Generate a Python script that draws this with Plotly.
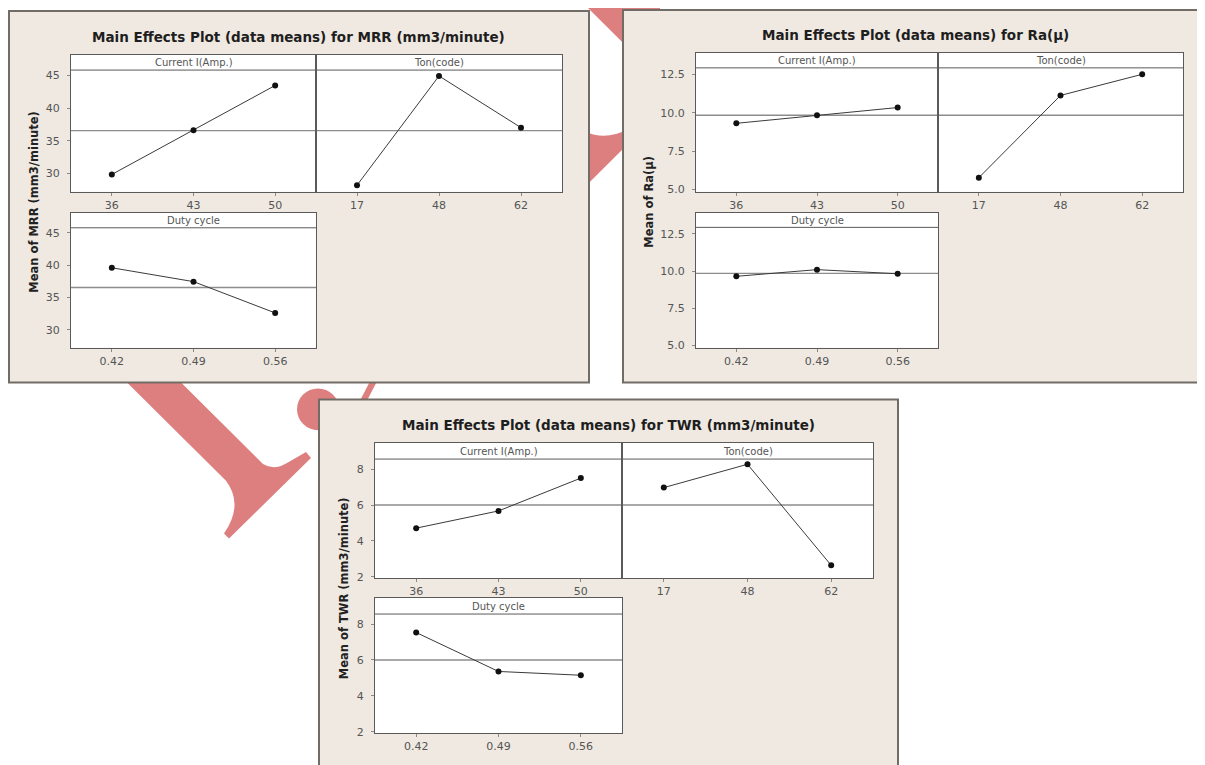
import plotly.graph_objects as go

# ---------------- data ----------------
current_levels = ["36", "43", "50"]
ton_levels = ["17", "48", "62"]
duty_levels = ["0.42", "0.49", "0.56"]

mrr_current = [29.85, 36.6, 43.45]
mrr_ton = [28.2, 44.9, 37.0]
mrr_duty = [39.6, 37.45, 32.6]
mrr_mean = 36.55

ra_current = [9.32, 9.85, 10.35]
ra_ton = [5.77, 11.14, 12.52]
ra_duty = [9.65, 10.1, 9.82]
ra_mean = 9.85

twr_current = [4.71, 5.67, 7.5]
twr_ton = [6.97, 8.27, 2.64]
twr_duty = [7.53, 5.36, 5.15]
twr_mean = 6.0

factor_names = ["Current I(Amp.)", "Ton(code)", "Duty cycle"]

mrr_ticks = [30, 35, 40, 45]
mrr_ticktext = ["30", "35", "40", "45"]
ra_ticks = [5.0, 7.5, 10.0, 12.5]
ra_ticktext = ["5.0", "7.5", "10.0", "12.5"]
twr_ticks = [2, 4, 6, 8]
twr_ticktext = ["2", "4", "6", "8"]

# ---------------- layout helpers ----------------
OFF = 8                      # page body margin
W, H = 1205 - OFF, 765 - OFF
BEIGE = "#EFE9E1"
RED = "rgb(222,127,127)"


def px(x):
    return (x - OFF) / W


def py(y):
    return 1 - (y - OFF) / H


def path(pts_cmds):
    out = []
    for c in pts_cmds:
        if c[0] in ("M", "L"):
            out.append(f"{c[0]} {px(c[1]):.5f},{py(c[2]):.5f}")
        elif c[0] == "Q":
            out.append(f"Q {px(c[1]):.5f},{py(c[2]):.5f} {px(c[3]):.5f},{py(c[4]):.5f}")
        elif c[0] == "Z":
            out.append("Z")
    return " ".join(out)


panels = [
    dict(title="Main Effects Plot (data means) for MRR (mm3/minute)",
         ytitle="Mean of MRR (mm3/minute)",
         frame=(9, 11, 589, 385), title_pos=(298, 37), ytitle_pos=(34, 203),
         rects=[(71, 55, 316, 193), (316, 55, 562, 193), (71, 214, 316, 350)],
         yrange=[27.2, 48.15], header=45.8, mean=mrr_mean,
         ticks=mrr_ticks, ticktext=mrr_ticktext,
         series=[mrr_current, mrr_ton, mrr_duty]),
    dict(title="Main Effects Plot (data means) for Ra(\u03bc)",
         ytitle="Mean of Ra(\u03bc)",
         frame=(623, 10, 1202, 385), title_pos=(915, 35), ytitle_pos=(649, 203),
         rects=[(696, 53, 938, 193), (938, 53, 1183, 193), (696, 214, 938, 350)],
         yrange=[4.85, 13.93], header=12.94, mean=ra_mean,
         ticks=ra_ticks, ticktext=ra_ticktext,
         series=[ra_current, ra_ton, ra_duty]),
    dict(title="Main Effects Plot (data means) for TWR (mm3/minute)",
         ytitle="Mean of TWR (mm3/minute)",
         frame=(319, 402, 898, 790), title_pos=(608, 428), ytitle_pos=(344, 592),
         rects=[(375, 446, 622, 582), (622, 446, 873, 582), (375, 602, 622, 738)],
         yrange=[1.92, 9.45], header=8.56, mean=twr_mean,
         ticks=twr_ticks, ticktext=twr_ticktext,
         series=[twr_current, twr_ton, twr_duty]),
]
levels = [current_levels, ton_levels, duty_levels]

fig = go.Figure()
shapes = []
annotations = []
layout_axes = {}

# ---- watermark (decorative, drawn under the panels) ----
wm = dict(xref="paper", yref="paper", layer="below", fillcolor=RED, line=dict(width=0))
shapes.append(dict(type="path", **wm,
                   path=path([("M", 122, 380), ("L", 176, 380), ("L", 263, 467),
                              ("Q", 274, 474, 287, 466), ("L", 306, 455), ("L", 311, 461),
                              ("L", 229, 542), ("L", 224, 537),
                              ("Q", 244, 508, 226, 484), ("L", 122, 380), ("Z",)])))
shapes.append(dict(type="circle", **wm,
                   x0=px(297), x1=px(339), y0=py(433), y1=py(391)))
shapes.append(dict(type="path", **wm,
                   path=path([("M", 372, 380), ("L", 379, 380), ("L", 366, 405),
                              ("L", 359, 405), ("Z",)])))
shapes.append(dict(type="path", **wm,
                   path=path([("M", 575, -5), ("L", 660, -5), ("L", 660, 50),
                              ("L", 630, 50), ("Z",)])))
shapes.append(dict(type="path", **wm,
                   path=path([("M", 585, 132), ("Q", 605, 142, 628, 130), ("L", 628, 145),
                              ("L", 585, 188), ("Z",)])))

# ---- panel frames ----
for p in panels:
    x0, y0, x1, y1 = p["frame"]
    shapes.append(dict(type="rect", xref="paper", yref="paper", layer="below",
                       x0=px(x0), x1=px(x1), y0=py(y1), y1=py(y0),
                       fillcolor=BEIGE, line=dict(color="#726c66", width=2)))

n = 0
for p in panels:
    tx, ty = p["title_pos"]
    annotations.append(dict(xref="paper", yref="paper", x=px(tx), y=py(ty),
                            text="<b>" + p["title"] + "</b>", showarrow=False,
                            xanchor="center", yanchor="middle",
                            font=dict(family="DejaVu Sans", size=13.5, color="#1e1e1e")))
    yx, yy = p["ytitle_pos"]
    annotations.append(dict(xref="paper", yref="paper", x=px(yx), y=py(yy),
                            text="<b>" + p["ytitle"] + "</b>", showarrow=False,
                            textangle=-90, xanchor="center", yanchor="middle",
                            font=dict(family="DejaVu Sans", size=11.5, color="#222")))
    for k in range(3):
        n += 1
        xa = "x" if n == 1 else f"x{n}"
        ya = "y" if n == 1 else f"y{n}"
        xkey = "xaxis" if n == 1 else f"xaxis{n}"
        ykey = "yaxis" if n == 1 else f"yaxis{n}"
        rx0, ry0, rx1, ry1 = p["rects"][k]
        cats = levels[k]
        vals = p["series"][k]
        fig.add_trace(go.Scatter(
            x=cats, y=vals, xaxis=xa, yaxis=ya, mode="lines+markers",
            line=dict(color="#3a3a3a", width=1),
            marker=dict(color="#111111", size=6),
            showlegend=False, hoverinfo="x+y"))
        layout_axes[xkey] = dict(
            domain=[px(rx0), px(rx1)], anchor=ya, type="category",
            categoryorder="array", categoryarray=cats, range=[-0.5, 2.5],
            showline=True, mirror=True, linecolor="#5a5a5a", linewidth=1,
            ticks="outside", ticklen=3, tickcolor="#8a8a8a",
            tickfont=dict(family="DejaVu Sans", size=11, color="#555"),
            showgrid=False, zeroline=False, fixedrange=True)
        layout_axes[ykey] = dict(
            domain=[py(ry1), py(ry0)], anchor=xa, range=p["yrange"],
            showline=True, mirror=True, linecolor="#5a5a5a", linewidth=1,
            tickvals=p["ticks"], ticktext=p["ticktext"],
            ticks="outside" if k != 1 else "", ticklen=3, tickcolor="#8a8a8a",
            showticklabels=(k != 1), ticklabelstandoff=5,
            tickfont=dict(family="DejaVu Sans", size=11, color="#555"),
            showgrid=False, zeroline=False, fixedrange=True)
        # white plot area
        shapes.append(dict(type="rect", xref=f"{xa} domain", yref=f"{ya} domain",
                           layer="below", x0=0, x1=1, y0=0, y1=1,
                           fillcolor="white", line=dict(width=0)))
        # reference (grand mean) line
        shapes.append(dict(type="line", xref=f"{xa} domain", yref=ya, layer="below",
                           x0=0, x1=1, y0=p["mean"], y1=p["mean"],
                           line=dict(color="#8c8c8c", width=1.4)))
        # strip header line
        shapes.append(dict(type="line", xref=f"{xa} domain", yref=ya, layer="below",
                           x0=0, x1=1, y0=p["header"], y1=p["header"],
                           line=dict(color="#5a5a5a", width=1)))
        annotations.append(dict(xref=f"{xa} domain", yref=ya, x=0.5,
                                y=(p["header"] + p["yrange"][1]) / 2,
                                text=factor_names[k], showarrow=False,
                                xanchor="center", yanchor="middle",
                                font=dict(family="DejaVu Sans", size=10, color="#555")))

fig.update_layout(
    width=W, height=H, margin=dict(l=0, r=0, t=0, b=0),
    paper_bgcolor="white", plot_bgcolor="rgba(0,0,0,0)",
    showlegend=False, shapes=shapes, annotations=annotations,
    **layout_axes)

fig.write_html("out.html")
